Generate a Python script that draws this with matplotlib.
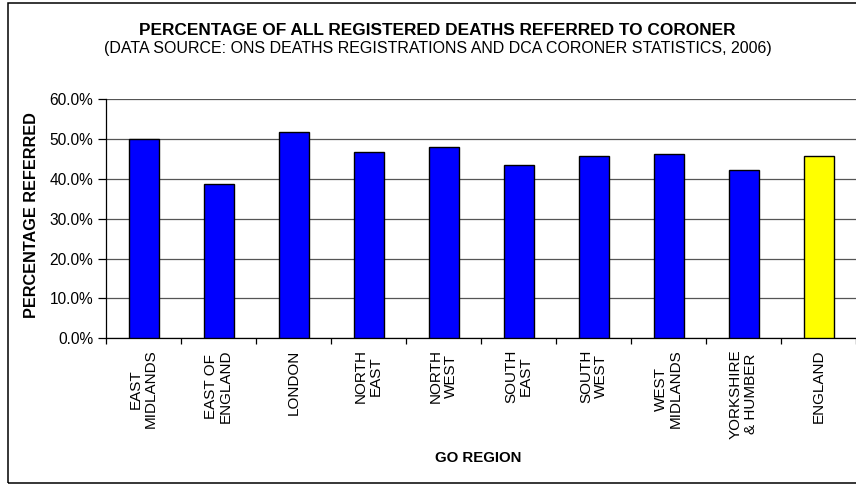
import matplotlib
matplotlib.use('Agg')
import matplotlib.pyplot as plt
from matplotlib.patches import Rectangle

regions = ["EAST\nMIDLANDS", "EAST OF\nENGLAND", "LONDON", "NORTH\nEAST", "NORTH\nWEST",
           "SOUTH\nEAST", "SOUTH\nWEST", "WEST\nMIDLANDS", "YORKSHIRE\n& HUMBER", "ENGLAND"]
pct_referred = [50.1, 38.7, 51.9, 46.8, 48.1, 43.6, 45.8, 46.2, 42.3, 45.8]
bar_colors = ['#0000FF'] * 9 + ['#FFFF00']
y_ticks = [0, 10, 20, 30, 40, 50, 60]
y_tick_labels = [f"{v:.1f}%" for v in y_ticks]

title = "PERCENTAGE OF ALL REGISTERED DEATHS REFERRED TO CORONER"
subtitle = "(DATA SOURCE: ONS DEATHS REGISTRATIONS AND DCA CORONER STATISTICS, 2006)"
y_title = "PERCENTAGE REFERRED"
x_title = "GO REGION"

plt.rcParams['font.family'] = ['Liberation Sans', 'DejaVu Sans']

W, H = 856, 486
fig = plt.figure(figsize=(W / 100, H / 100), dpi=100)
fig.patch.set_facecolor('white')

ax = fig.add_axes([106 / W, 1 - 338.3 / H, 750 / W, 239 / H])
xpos = list(range(len(regions)))
ax.bar(xpos, pct_referred, width=0.4, color=bar_colors, edgecolor='black',
       linewidth=1.0, zorder=3)
ax.set_xlim(-0.5, len(regions) - 0.5)
ax.set_ylim(0, 60)

ax.set_yticks(y_ticks)
ax.set_yticklabels(y_tick_labels, fontsize=11.2)
ax.yaxis.grid(True, color='#555555', linewidth=0.9)
ax.set_axisbelow(True)

ax.set_xticks(xpos)
ax.set_xticklabels(regions, rotation=90, fontsize=11, va='top', ha='center',
                   multialignment='center', linespacing=1.1)
ax.tick_params(axis='x', which='major', length=0, pad=8)
ax.set_xticks([i - 0.5 for i in range(len(regions) + 1)], minor=True)
ax.tick_params(axis='x', which='minor', length=4, width=0.9, direction='out', color='black')
ax.tick_params(axis='y', length=6, width=0.9, pad=3, color='black')

for s in ['top', 'right']:
    ax.spines[s].set_visible(False)
for s in ['left', 'bottom']:
    ax.spines[s].set_color('black')
    ax.spines[s].set_linewidth(0.9)

fig.text(437 / W, 1 - 30.5 / H, title, ha='center', va='center', fontsize=12.4,
         fontweight='bold')
fig.text(438 / W, 1 - 49 / H, subtitle, ha='center', va='center', fontsize=11.5)
fig.text(32 / W, 1 - 215 / H, y_title, rotation=90, ha='center', va='center',
         fontsize=11.7, fontweight='bold')
fig.text(478 / W, 1 - 458 / H, x_title, ha='center', va='center', fontsize=10.8,
         fontweight='bold')

border = Rectangle((7.7 / W, 3 / H), 1.05, (483 - 3) / H, transform=fig.transFigure,
                   fill=False, edgecolor='black', linewidth=1.1, clip_on=False)
fig.patches.append(border)

fig.savefig('out.png', dpi=100)
